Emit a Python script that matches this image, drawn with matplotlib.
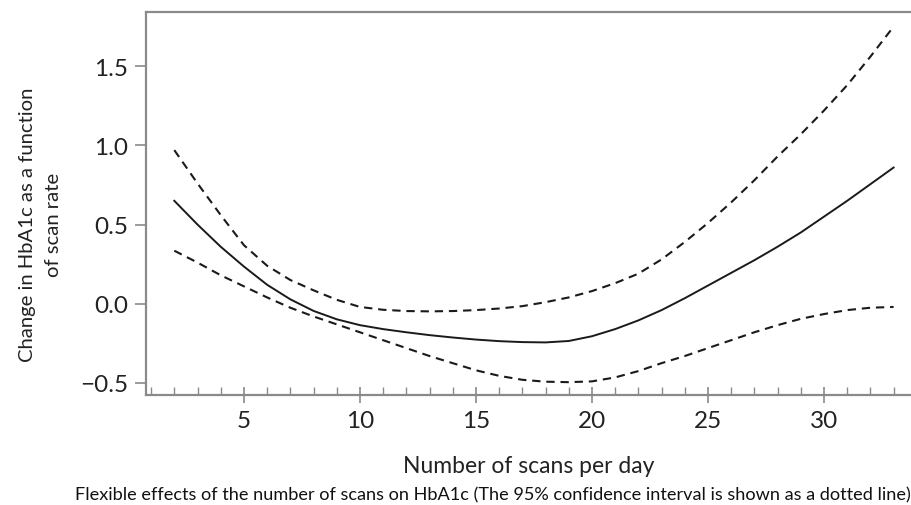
import matplotlib
matplotlib.use("Agg")
import matplotlib.pyplot as plt
from matplotlib.ticker import MultipleLocator

plt.rcParams['font.family'] = ['Lato', 'DejaVu Sans']

scans = list(range(2, 34))
effect = [0.65, 0.50, 0.36, 0.235, 0.12, 0.028, -0.045, -0.098, -0.135, -0.16,
          -0.18, -0.198, -0.213, -0.226, -0.236, -0.242, -0.244, -0.235, -0.205, -0.16,
          -0.105, -0.04, 0.035, 0.115, 0.195, 0.275, 0.36, 0.45, 0.55, 0.65,
          0.755, 0.86]
upper = [0.97, 0.76, 0.56, 0.37, 0.24, 0.15, 0.085, 0.025, -0.02, -0.038,
         -0.046, -0.048, -0.046, -0.04, -0.03, -0.015, 0.01, 0.04, 0.08, 0.13,
         0.19, 0.28, 0.39, 0.51, 0.64, 0.78, 0.93, 1.07, 1.22, 1.38,
         1.56, 1.75]
lower = [0.335, 0.26, 0.18, 0.11, 0.04, -0.025, -0.08, -0.13, -0.18, -0.23,
         -0.28, -0.33, -0.375, -0.42, -0.455, -0.48, -0.492, -0.495, -0.49, -0.465,
         -0.425, -0.375, -0.33, -0.28, -0.23, -0.18, -0.135, -0.095, -0.065, -0.04,
         -0.025, -0.02]

xticks = [5, 10, 15, 20, 25, 30]
yticks = [-0.5, 0.0, 0.5, 1.0, 1.5]
ytick_labels = ['\u22120.5', '0.0', '0.5', '1.0', '1.5']

fig = plt.figure(figsize=(9.11, 5.06), dpi=100)
ax = fig.add_axes([146/911, 1 - 396/506, 1 - 146/911, (396 - 13)/506])

ax.plot(scans, effect, color='#1a1a1a', lw=1.4)
ax.plot(scans, upper, color='#1a1a1a', lw=1.5, dashes=(4, 2.8))
ax.plot(scans, lower, color='#1a1a1a', lw=1.5, dashes=(4, 2.8))

ax.set_xlim(0.78, 33.75)
ax.set_ylim(-0.576, 1.842)

ax.set_xticks(xticks)
ax.set_xticklabels([str(v) for v in xticks])
ax.xaxis.set_minor_locator(MultipleLocator(1))
ax.set_yticks(yticks)
ax.set_yticklabels(ytick_labels)

spine_color = '#8a8a8a'
for s in ['left', 'bottom', 'top']:
    ax.spines[s].set_color(spine_color)
    ax.spines[s].set_linewidth(1.6)
ax.spines['right'].set_visible(False)

ax.tick_params(axis='y', which='major', direction='out', length=8, width=1.2,
               color=spine_color, labelsize=17.5, labelcolor='#222222', pad=5)
ax.tick_params(axis='x', which='major', direction='inout', length=12, width=1.2,
               color=spine_color, labelsize=17.5, labelcolor='#222222', pad=5)
ax.tick_params(axis='x', which='minor', direction='in', length=6, width=1.0,
               color=spine_color)

ax.set_xlabel('Number of scans per day', fontsize=16.5, color='#222222', labelpad=17)
ax.set_ylabel('Change in HbA1c as a function\nof scan rate', fontsize=14.6,
              color='#222222', linespacing=1.6)
ax.yaxis.set_label_coords(-0.11, 0.446)

fig.text(75/911, 1 - 495/506,
         'Flexible effects of the number of scans on HbA1c (The 95% confidence interval is shown as a dotted line)',
         fontsize=13.1, color='#111111', ha='left', va='center')

fig.savefig('out.png', dpi=100, facecolor='white')
